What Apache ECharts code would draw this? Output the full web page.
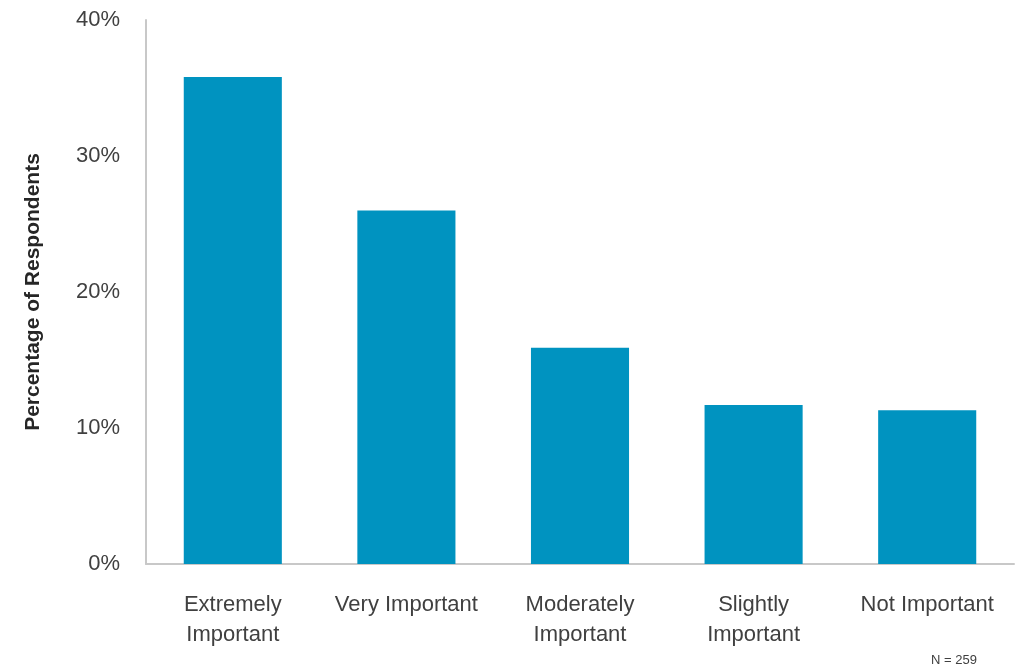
<!DOCTYPE html>
<html>
<head>
<meta charset="utf-8">
<script src="https://cdn.jsdelivr.net/npm/echarts@6/dist/echarts.min.js"></script>
<style>
  html, body { margin: 0; padding: 0; background: #ffffff; }
  #chart { width: 1016px; height: 672px; }
</style>
</head>
<body>
<div id="chart"></div>
<script>
// Survey: how important respondents rate the topic
const categories = ['Extremely\nImportant', 'Very Important', 'Moderately\nImportant', 'Slightly\nImportant', 'Not Important'];
const shares = [35.8, 26.0, 15.9, 11.7, 11.3];
const yTicks = [0, 10, 20, 30, 40];
const sampleNote = 'N = 259';

const chart = echarts.init(document.getElementById('chart'));
const fontFamily = '"Liberation Sans", Arial, sans-serif';

chart.setOption({
  animation: false,
  grid: { left: 146, right: 2, top: 20, bottom: 108 },
  graphic: [{
    type: 'text',
    left: 931,
    top: 654,
    style: { text: sampleNote, font: '13px ' + fontFamily, fill: '#404040' }
  }],
  xAxis: {
    type: 'category',
    data: categories,
    axisLine: { lineStyle: { color: '#c8c8c8', width: 2 } },
    axisTick: { show: false },
    axisLabel: {
      color: '#404040',
      fontFamily: fontFamily,
      fontSize: 22,
      lineHeight: 30,
      margin: 26,
      interval: 0
    }
  },
  yAxis: {
    type: 'value',
    min: yTicks[0],
    max: yTicks[yTicks.length - 1],
    interval: 10,
    name: 'Percentage of Respondents',
    nameLocation: 'middle',
    nameGap: 102,
    nameTextStyle: { color: '#262626', fontFamily: fontFamily, fontSize: 21, fontWeight: 'bold' },
    axisLine: { show: true, lineStyle: { color: '#c8c8c8', width: 2 } },
    axisTick: { show: false },
    splitLine: { show: false },
    axisLabel: {
      color: '#404040',
      fontFamily: fontFamily,
      fontSize: 22,
      margin: 26,
      padding: [6, 0, 0, 0],
      formatter: v => v + '%'
    }
  },
  series: [{
    type: 'bar',
    data: shares,
    barWidth: '56.5%',
    itemStyle: { color: '#0093c0' }
  }]
});
</script>
</body>
</html>
